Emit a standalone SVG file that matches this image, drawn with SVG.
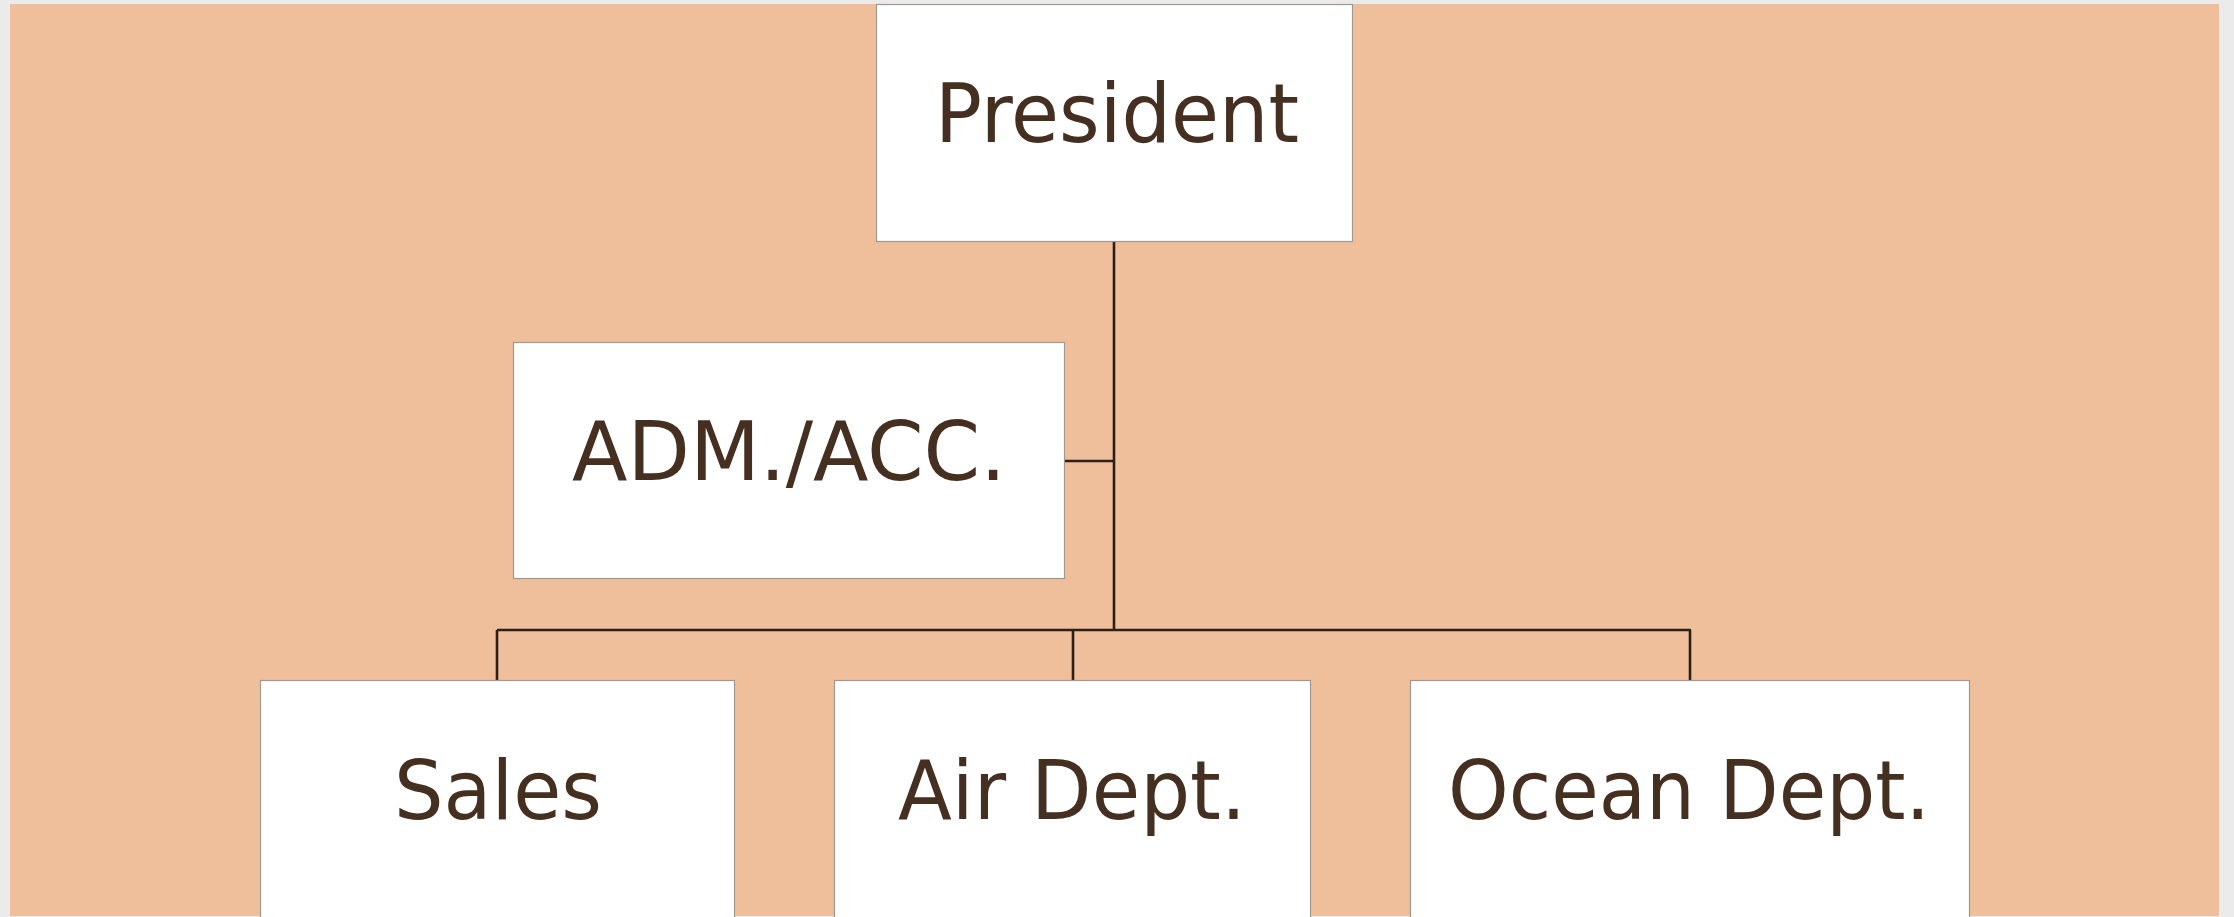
<svg xmlns="http://www.w3.org/2000/svg" width="2234" height="917" viewBox="0 0 2234 917">
<style>
.box{fill:#ffffff;stroke:#9e9893;stroke-width:1.2}
.lbl{font-family:"DejaVu Sans","Liberation Sans",sans-serif;font-size:82px;fill:#452f20;text-anchor:middle}
.ln{stroke:#2b2017;stroke-width:2.6;fill:none}
</style>
<rect x="0" y="0" width="2234" height="917" fill="#ebebeb"/>
<rect x="10" y="4" width="2209" height="912" fill="#efbf9c"/>
<g id="connectors">
<line class="ln" x1="1114" y1="241" x2="1114" y2="630"/>
<line class="ln" x1="1064" y1="461" x2="1114" y2="461"/>
<line class="ln" x1="497" y1="630" x2="1691" y2="630" stroke-width="3.4"/>
<line class="ln" x1="497" y1="630" x2="497" y2="680"/>
<line class="ln" x1="1073" y1="630" x2="1073" y2="680"/>
<line class="ln" x1="1690" y1="630" x2="1690" y2="680"/>
</g>
<g id="president">
<rect class="box" x="876.5" y="4.5" width="476" height="237"/>
<text class="lbl" x="1117" y="142" textLength="364" lengthAdjust="spacingAndGlyphs">President</text>
</g>
<g id="adm">
<rect class="box" x="513.5" y="342.5" width="551" height="236"/>
<text class="lbl" x="789" y="480" textLength="434" lengthAdjust="spacingAndGlyphs">ADM./ACC.</text>
</g>
<g id="sales">
<rect class="box" x="260.5" y="680.5" width="474" height="240"/>
<text class="lbl" x="498" y="819" textLength="208" lengthAdjust="spacingAndGlyphs">Sales</text>
</g>
<g id="air">
<rect class="box" x="834.5" y="680.5" width="476" height="240"/>
<text class="lbl" x="1072" y="819" textLength="348" lengthAdjust="spacingAndGlyphs">Air Dept.</text>
</g>
<g id="ocean">
<rect class="box" x="1410.5" y="680.5" width="559" height="240"/>
<text class="lbl" x="1689" y="819" textLength="482" lengthAdjust="spacingAndGlyphs">Ocean Dept.</text>
</g>
</svg>
